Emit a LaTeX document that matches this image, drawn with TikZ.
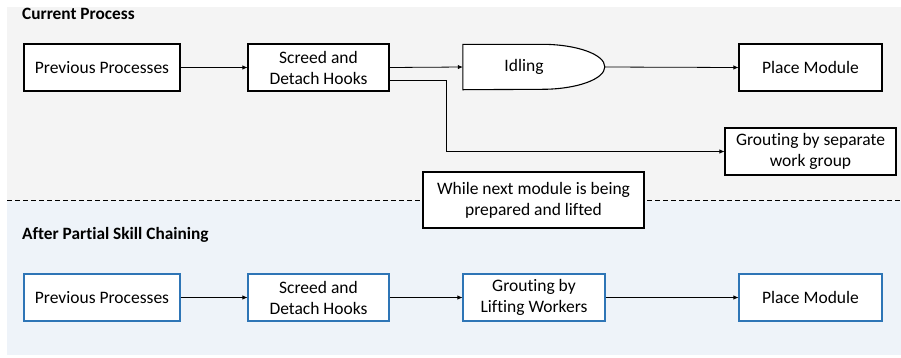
\documentclass[tikz,border=0pt]{standalone}
\usepackage{fontspec}
\setmainfont[Ligatures=NoCommon]{Carlito}
\usetikzlibrary{arrows.meta}
\definecolor{topbg}{HTML}{F4F4F4}
\definecolor{botbg}{HTML}{EEF3F9}
\definecolor{blueb}{HTML}{2E75B6}
\begin{document}
\begin{tikzpicture}[x=1pt,y=-1pt,
  box/.style={draw=black, line width=1.1pt, fill=white, inner sep=0pt, align=center,
    minimum height=47pt, font=\fontsize{17.5}{21}\selectfont},
  bluebox/.style={box, draw=blueb},
  plain/.style={inner sep=0pt, align=center, font=\fontsize{17.5}{21}\selectfont},
  arr/.style={-{Latex[length=5pt,width=4.5pt]}, line width=0.8pt},
  title/.style={font=\bfseries\fontsize{17.3}{20}\selectfont, anchor=base west, inner sep=0pt},
  sep/.style={dash pattern=on 5pt off 3pt, line width=1.1pt}]
\useasboundingbox (0,0) rectangle (901,357);
\fill[topbg] (7,7) rectangle (901,200.5);
\fill[botbg] (7,200.5) rectangle (901,355);

% titles
\node[title] (t1) at (22,19.5) {Current Process};
\node[title] (t2) at (22,239) {After Partial Skill Chaining};

% separator
\coordinate (dl) at (7,200.5);
\coordinate (dr) at (901,200.5);
\draw[sep] (dl) -- (dr);

% top row
\node[box, minimum width=156pt] (p1) at (102,67.5) {Previous Processes};
\node[box, minimum width=141pt] (s1) at (318.5,67.5) {Screed and\\Detach Hooks};
\node[minimum width=142pt, minimum height=45pt, inner sep=0pt] (idle) at (534,67) {};
\draw[line width=1.1pt, fill=white] (idle.north west) -- ++(79,0)
  arc[start angle=90, end angle=-90, x radius=63pt, y radius=22.5pt]
  -- (idle.south west) -- cycle;
\node[plain] (idletxt) at (524,67) {Idling};
\node[box, minimum width=143pt] (pm1) at (810.5,67.5) {Place Module};
\node[box, minimum width=171pt] (gs) at (810.5,151.5) {Grouting by separate\\work group};
\node[box, minimum width=221pt, minimum height=56pt] (wh) at (533.5,200) {While next module is being\\prepared and lifted};

\draw[arr] (p1.east) -- (s1.west);
\draw[arr] (s1.east) -- (idle.west);
\draw[arr] (idle.east) -- (pm1.west);
\draw[arr] ([yshift=-13pt]s1.east) -- ++(57,0) |- (gs.west);

% bottom row
\node[bluebox, minimum width=156pt] (p2) at (102,297.5) {Previous Processes};
\node[bluebox, minimum width=141pt] (s2) at (318.5,297.5) {Screed and\\Detach Hooks};
\node[bluebox, minimum width=142pt] (g2) at (534,297.5) {Grouting by\\Lifting Workers};
\node[bluebox, minimum width=143pt] (pm2) at (810.5,297.5) {Place Module};

\draw[arr] (p2.east) -- (s2.west);
\draw[arr] (s2.east) -- (g2.west);
\draw[arr] (g2.east) -- (pm2.west);
\end{tikzpicture}
\end{document}
